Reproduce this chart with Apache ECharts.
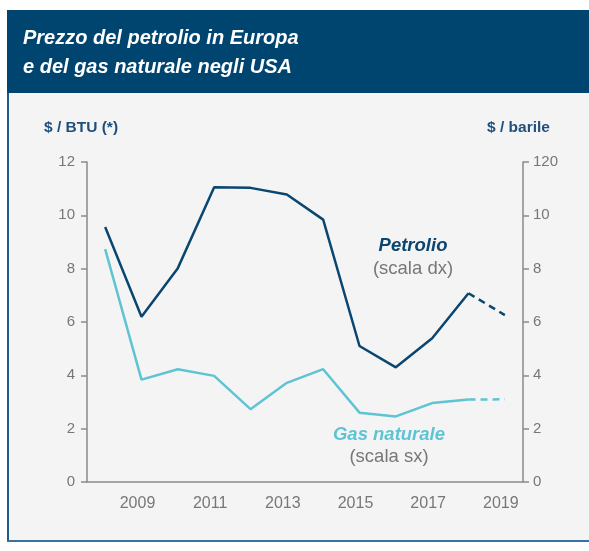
<!DOCTYPE html>
<html>
<head>
<meta charset="utf-8">
<script src="https://cdn.jsdelivr.net/npm/echarts@6/dist/echarts.min.js"></script>
<style>
	html, body { margin: 0; padding: 0; background: #ffffff; }
	#chart { width: 589px; height: 551px; }
</style>
</head>
<body>
<div id="chart"></div>
<script>
// dati
var anni = ['2008','2009','2010','2011','2012','2013','2014','2015','2016','2017','2018','2019'];
// petrolio, $ / barile (scala dx)
var petrolio = [95.6, 62.0, 80.2, 110.5, 110.3, 107.8, 98.4, 51.0, 43.0, 53.9, 70.8, null];
var petrolioStima = [null, null, null, null, null, null, null, null, null, null, 70.8, 62.6];
// gas naturale, $ / BTU (scala sx)
var gas = [8.73, 3.84, 4.23, 3.98, 2.73, 3.72, 4.23, 2.60, 2.46, 2.96, 3.09, null];
var gasStima = [null, null, null, null, null, null, null, null, null, null, 3.09, 3.10];
// etichette della scala dx come appaiono nell'originale
var tickDx = ['0', '2', '4', '6', '8', '10', '120'];

var blu = '#0a4670';
var azzurro = '#5ec4d3';
var grigio = '#777777';
var font = 'Liberation Sans, Arial, sans-serif';

var chart = echarts.init(document.getElementById('chart'));

var option = {
	backgroundColor: '#ffffff',
	animation: false,
	title: {
		text: 'Prezzo del petrolio in Europa\ne del gas naturale negli USA',
		left: 23,
		top: 24,
		padding: 0,
		textStyle: {
			color: '#ffffff',
			fontSize: 20,
			fontWeight: 'bold',
			fontStyle: 'italic',
			fontFamily: font,
			lineHeight: 29
		}
	},
	grid: {
		left: 87,
		right: 66,
		top: 162,
		bottom: 69
	},
	graphic: [
		{ type: 'rect', z: -10, shape: { x: 7, y: 10, width: 582, height: 532 }, style: { fill: '#f4f4f4' } },
		{ type: 'rect', z: -9, shape: { x: 7, y: 10, width: 582, height: 83 }, style: { fill: '#00456f' } },
		{ type: 'rect', z: -9, shape: { x: 7, y: 93, width: 2, height: 449 }, style: { fill: '#1e5a8a' } },
		{ type: 'rect', z: -9, shape: { x: 7, y: 540, width: 582, height: 2 }, style: { fill: '#3a70a3' } },
		{ type: 'text', left: 44, top: 120, style: { text: '$ / BTU (*)', fill: '#1f4f7a', font: 'bold 15.5px ' + font } },
		{ type: 'text', left: 487, top: 120, style: { text: '$ / barile', fill: '#1f4f7a', font: 'bold 15.5px ' + font } },
		{ type: 'text', x: 413, y: 236, style: { text: 'Petrolio', fill: blu, align: 'center', font: 'italic bold 18.5px ' + font } },
		{ type: 'text', x: 413, y: 259, style: { text: '(scala dx)', fill: grigio, align: 'center', font: '18.5px ' + font } },
		{ type: 'text', x: 389, y: 425, style: { text: 'Gas naturale', fill: azzurro, align: 'center', font: 'italic bold 18.5px ' + font } },
		{ type: 'text', x: 389, y: 447, style: { text: '(scala sx)', fill: grigio, align: 'center', font: '18.5px ' + font } }
	],
	xAxis: {
		type: 'category',
		data: anni,
		boundaryGap: true,
		axisLine: { lineStyle: { color: '#8a8a8a', width: 1.5 } },
		axisTick: { interval: 0, length: 5, lineStyle: { color: '#8a8a8a', width: 1.5 } },
		axisLabel: {
			interval: function (idx) { return idx % 2 === 1; },
			color: grigio,
			fontSize: 16,
			fontFamily: font,
			margin: 14,
			padding: [0, 8, 0, 0]
		},
		splitLine: { show: false }
	},
	yAxis: [
		{
			type: 'value',
			min: 0,
			max: 12,
			interval: 2,
			axisLine: { show: true, lineStyle: { color: '#8a8a8a', width: 1.5 } },
			axisTick: { show: true, length: 6, lineStyle: { color: '#8a8a8a', width: 1.5 } },
			axisLabel: { color: grigio, fontSize: 15, fontFamily: font, margin: 12 },
			splitLine: { show: false }
		},
		{
			type: 'value',
			position: 'right',
			min: 0,
			max: 120,
			interval: 20,
			axisLine: { show: true, lineStyle: { color: '#8a8a8a', width: 1.5 } },
			axisTick: { show: true, length: 6, lineStyle: { color: '#8a8a8a', width: 1.5 } },
			axisLabel: {
				color: grigio, fontSize: 15, fontFamily: font, margin: 10,
				formatter: function (v) { return tickDx[Math.round(v / 20)]; }
			},
			splitLine: { show: false }
		}
	],
	series: [
		{
			name: 'Petrolio',
			type: 'line',
			yAxisIndex: 1,
			data: petrolio,
			symbol: 'none',
			lineStyle: { color: blu, width: 2.5 }
		},
		{
			name: 'Petrolio stima',
			type: 'line',
			yAxisIndex: 1,
			data: petrolioStima,
			symbol: 'none',
			lineStyle: { color: blu, width: 2.5, type: [7, 5] }
		},
		{
			name: 'Gas naturale',
			type: 'line',
			yAxisIndex: 0,
			data: gas,
			symbol: 'none',
			lineStyle: { color: azzurro, width: 2.5 }
		},
		{
			name: 'Gas naturale stima',
			type: 'line',
			yAxisIndex: 0,
			data: gasStima,
			symbol: 'none',
			lineStyle: { color: azzurro, width: 2.5, type: [7, 5] }
		}
	]
};

chart.setOption(option);
</script>
</body>
</html>
